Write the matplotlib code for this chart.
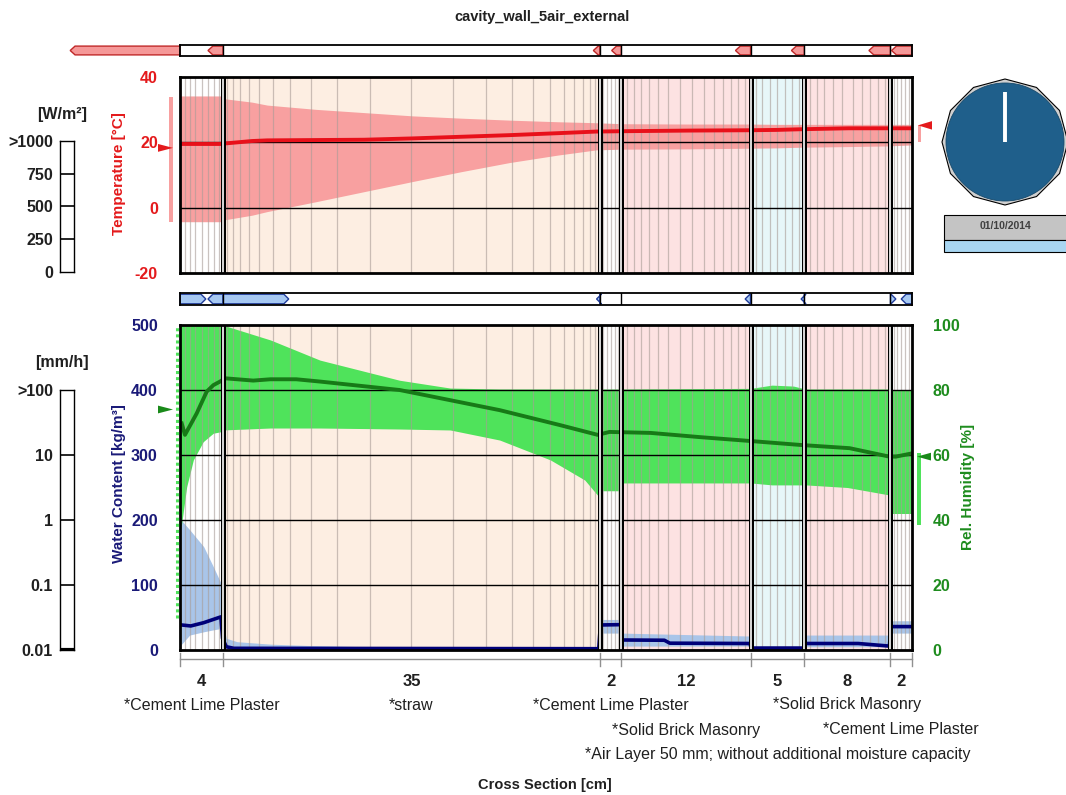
import numpy as np
import matplotlib
matplotlib.use("Agg")
import matplotlib.pyplot as plt
import matplotlib.transforms as mtrans
from matplotlib.patches import Polygon, Rectangle, Circle, RegularPolygon
from matplotlib.ticker import NullLocator, FixedLocator

plt.rcParams['font.family'] = ['Liberation Sans', 'DejaVu Sans']
plt.rcParams['axes.unicode_minus'] = False

# ---------------- data ----------------
title = "cavity_wall_5air_external"
layer_names = ["*Cement Lime Plaster", "*straw", "*Cement Lime Plaster",
               "*Solid Brick Masonry", "*Air Layer 50 mm; without additional moisture capacity",
               "*Solid Brick Masonry", "*Cement Lime Plaster"]
layer_thick = [4, 35, 2, 12, 5, 8, 2]
layer_row = [0, 0, 0, 1, 2, 0, 1]
layer_colors = ["#ffffff", "#fdeee2", "#ffffff", "#fde2e2", "#e7f7f9", "#fde2e2", "#ffffff"]
layer_mesh_n = [8, 22, 6, 15, 8, 11, 6]

# temperature [°C]
x_t = [0, 3.9, 4.0, 6.7, 8.1, 12.6, 17.1, 21.6, 26.1, 30.6, 35.1, 38.7, 41.0,
       47.3, 52.9, 55.4, 57.6, 62.1, 65.7, 68.0]
t_mean = [19.5, 19.5, 19.6, 20.4, 20.6, 20.7, 20.8, 21.2, 21.7, 22.2, 22.8, 23.3, 23.4,
          23.6, 23.7, 23.8, 24.0, 24.3, 24.3, 24.3]
t_max = [34.2, 34.2, 33.4, 32.3, 31.4, 30.1, 29.1, 28.1, 27.4, 26.8, 26.3, 26.0, 25.7,
         25.6, 25.6, 25.5, 25.5, 25.5, 25.5, 25.5]
t_min = [-4.3, -4.3, -3.8, -2.3, -1.2, 1.8, 4.9, 8.0, 11.0, 13.8, 16.1, 17.7, 17.9,
         18.0, 18.2, 18.3, 18.5, 18.7, 18.9, 19.2]
t_ext_range = [-4.3, 34.0]
t_ext_now = 18.3
t_int_range = [20.2, 25.4]
t_int_now = 25.2

# water content [kg/m3]
x_w = [0.15, 1.0, 2.2, 3.8, 3.95, 4.3, 5.0, 38.9, 39.05, 40.95, 41.05, 45.0, 45.5,
       52.95, 53.05, 57.95, 58.05, 63.0, 65.9, 66.05, 68.0]
wc_mean = [38.5, 37.0, 42.0, 51.0, 18.0, 5.0, 2.6, 2.0, 38.5, 39.0, 15.4, 15.0, 10.5,
           10.0, 3.0, 3.0, 10.0, 10.0, 6.0, 36.0, 36.0]
x_wb = [0.1, 0.9, 2.2, 3.1, 3.8, 3.95, 4.3, 5.3, 8.4, 11.8, 20.0, 38.9, 39.05, 40.95,
        41.05, 52.95, 53.05, 57.95, 58.05, 65.95, 66.05, 68.0]
wc_hi = [200, 185, 159, 128, 103, 46, 18, 12.8, 9, 7, 4, 3, 47, 47,
         26, 21.5, 3, 3, 23, 23, 45, 45]
wc_lo = [8, 23, 28, 31, 33, 5, 2, 1, 1, 1, 1, 1, 26, 26,
         6, 6, 1, 1, 5, 5, 26, 26]

# relative humidity [%]
x_rh = [0.16, 0.46, 1.55, 2.48, 3.1, 3.72, 4.2, 6.8, 8.4, 10.8, 13.0, 20.4, 29.7,
        35.3, 38.8, 39.9, 43.7, 48.3, 53.0, 57.6, 62.2, 65.9, 66.5, 68.0]
rh_mean = [69.7, 66.2, 72.8, 79.5, 81.5, 82.6, 83.6, 82.9, 83.3, 83.3, 82.6, 80.0, 73.8,
           69.2, 66.2, 67.1, 66.8, 65.5, 64.3, 63.1, 62.1, 59.5, 59.5, 60.5]
x_rb = [0.0, 0.16, 0.62, 1.24, 2.16, 3.09, 3.85, 3.95, 8.4, 13.0, 20.4, 25.1, 29.7,
        34.4, 37.6, 38.85, 39.0, 41.0, 41.1, 53.0, 55.0, 57.0, 58.1, 62.0, 65.9, 66.1, 68.0]
rh_hi = [100, 100, 100, 100, 100, 100, 100, 100, 95.4, 89.2, 83.0, 80.6, 80.3,
         80.3, 80.3, 80.3, 80.3, 80.3, 80.3, 80.5, 81.5, 81.2, 80.3, 80.3, 80.3, 80.0, 80.0]
rh_lo = [36, 39, 50.2, 58.5, 64.1, 66.7, 67.2, 67.7, 68.3, 68.3, 68.0, 67.7, 64.6,
         58.5, 52.3, 47.4, 49, 49, 51.4, 51.4, 50.8, 50.8, 50.8, 50.0, 47.7, 42, 42]
rh_ext_range = [10, 100]
rh_ext_now = 74.0
rh_int_range = [38.5, 60.5]
rh_int_now = 59.5

# flux indicators (length in cm along strip at each layer boundary, sign = direction)
heat_flux_bound = [0, 4, 39, 41, 53, 58, 66, 68]
heat_flux_len = [-10.2, -1.4, -0.6, -0.9, -1.4, -1.2, -2.0, -1.9]
moist_flux_bound = [0, 4, 4, 39, 53, 58, 66, 68]
moist_flux_len = [2.4, -1.4, 6.1, -0.3, -0.5, -0.3, 0.5, -1.0]

temp_ticks = [-20, 0, 20, 40]
wc_ticks = [0, 100, 200, 300, 400, 500]
rh_ticks = [0, 20, 40, 60, 80, 100]
rad_ticks = [0, 250, 500, 750, 1000]
rad_labels = ["0", "250", "500", "750", ">1000"]
rain_ticks = [0.01, 0.1, 1, 10, 100]
rain_labels = ["0.01", "0.1", "1", "10", ">100"]
date_text = "01/10/2014"

# ---------------- layout ----------------
W, H = 1066, 795
fig = plt.figure(figsize=(W / 100, H / 100), dpi=100)


def rect(x0, y0, x1, y1):
    return [x0 / W, 1 - y1 / H, (x1 - x0) / W, (y1 - y0) / H]


bounds = np.concatenate([[0], np.cumsum(layer_thick)])
total = bounds[-1]
centers = (bounds[:-1] + bounds[1:]) / 2


def mesh(a, b, n, r=1.18):
    half = n // 2
    w = r ** np.arange(half)
    if n % 2:
        widths = np.concatenate([w, [w[-1] * r], w[::-1]])
    else:
        widths = np.concatenate([w, w[::-1]])
    widths = widths / widths.sum() * (b - a)
    return a + np.cumsum(widths)[:-1]


mesh_x = np.concatenate([mesh(bounds[i], bounds[i + 1], layer_mesh_n[i],
                              1.25 if layer_thick[i] > 20 else 1.12)
                         for i in range(len(layer_thick))])

RED = "#e41a1c"
NAVY = "#1a1a78"
GREEN_T = "#1e8c1e"
TBAND = "#f8a0a0"
GBAND = "#4fe35b"
BBAND = "#a9c5e9"
MESHC = "#a89c96"

px = 1.0 / 732.0  # axes fraction of one pixel horizontally


def decorate_main(ax, ylo, yhi):
    for i in range(len(layer_thick)):
        ax.axvspan(bounds[i], bounds[i + 1], color=layer_colors[i], lw=0, zorder=0)
    ax.vlines(mesh_x, ylo, yhi, color=MESHC, lw=0.9, alpha=0.6, zorder=2)
    for b in bounds[1:-1]:
        ax.axvline(b, color="black", lw=3.6, zorder=6)
        ax.axvline(b, color="white", lw=1.2, zorder=7)
    for s in ax.spines.values():
        s.set_linewidth(2.0)
        s.set_zorder(8)
    ax.set_xlim(0, total)
    ax.set_ylim(ylo, yhi)
    ax.set_xticks([])


# ---- upper: temperature ----
ax_t = fig.add_axes(rect(180, 77, 912, 273))
decorate_main(ax_t, -20, 40)
ax_t.fill_between(x_t, t_min, t_max, color=TBAND, lw=0, zorder=1)
for v in (0, 20):
    ax_t.axhline(v, color="black", lw=1.0, zorder=3)
ax_t.plot(x_t, t_mean, color="#e8101a", lw=2.8, zorder=4)
ax_t.set_yticks(temp_ticks)
ax_t.tick_params(axis="y", length=0, pad=16, labelcolor=RED, labelsize=11.5)
for l in ax_t.get_yticklabels():
    l.set_fontweight("bold")

tr_t = mtrans.blended_transform_factory(ax_t.transAxes, ax_t.transData)
ax_t.add_patch(Rectangle((-11 * px, t_ext_range[0]), 4 * px, t_ext_range[1] - t_ext_range[0],
                         transform=tr_t, color=TBAND, clip_on=False, lw=0))
ax_t.add_patch(Polygon([(-22 * px, t_ext_now + 1.2), (-7 * px, t_ext_now), (-22 * px, t_ext_now - 1.2)],
                       closed=True, transform=tr_t, color=RED, clip_on=False, lw=0))
ax_t.add_patch(Rectangle((1 + 6 * px, t_int_range[0]), 3 * px, t_int_range[1] - t_int_range[0],
                         transform=tr_t, color=TBAND, clip_on=False, lw=0))
ax_t.add_patch(Polygon([(1 + 20 * px, t_int_now + 1.3), (1 + 6 * px, t_int_now), (1 + 20 * px, t_int_now - 1.3)],
                       closed=True, transform=tr_t, color=RED, clip_on=False, lw=0))

# ---- lower: water content + RH ----
ax_w = fig.add_axes(rect(180, 325, 912, 650))
ax_rh = ax_w.twinx()
ax_rh.set_ylim(0, 100)
decorate_main(ax_w, 0, 500)
ax_w.fill_between(x_wb, wc_lo, wc_hi, color=BBAND, lw=0, zorder=1)
ax_w.fill_between(x_rb, rh_lo, rh_hi, color=GBAND, lw=0, zorder=1.5, transform=ax_rh.transData)
for v in (100, 200, 300, 400):
    ax_w.axhline(v, color="black", lw=1.0, zorder=3)
ax_w.plot(x_w, wc_mean, color="#000078", lw=2.6, zorder=4)
ax_w.plot(x_rh, rh_mean, color="#177a17", lw=2.8, zorder=4, transform=ax_rh.transData)
ax_w.set_xlim(0, total)
ax_w.set_ylim(0, 500)
ax_rh.set_ylim(0, 100)
ax_w.set_yticks(wc_ticks)
ax_w.tick_params(axis="y", length=0, pad=16, labelcolor=NAVY, labelsize=11.5)
for l in ax_w.get_yticklabels():
    l.set_fontweight("bold")
ax_rh.set_yticks(rh_ticks)
ax_rh.tick_params(axis="y", length=0, pad=15, labelcolor=GREEN_T, labelsize=11.5)
for l in ax_rh.get_yticklabels():
    l.set_fontweight("bold")
for s in ax_rh.spines.values():
    s.set_visible(False)

tr_rh = mtrans.blended_transform_factory(ax_w.transAxes, ax_rh.transData)
ax_w.plot([-3 * px, -3 * px], rh_ext_range, transform=tr_rh, color=GBAND, lw=2.2,
          ls=(0, (1, 1)), clip_on=False, zorder=9)
ax_w.add_patch(Polygon([(-22 * px, rh_ext_now + 1.2), (-7 * px, rh_ext_now), (-22 * px, rh_ext_now - 1.2)],
                       closed=True, transform=tr_rh, color="#1a8a1a", clip_on=False, lw=0))
ax_w.add_patch(Rectangle((1 + 5 * px, rh_int_range[0]), 4 * px, rh_int_range[1] - rh_int_range[0],
                         transform=tr_rh, color=GBAND, clip_on=False, lw=0))
ax_w.add_patch(Polygon([(1 + 19 * px, rh_int_now + 1.2), (1 + 5 * px, rh_int_now), (1 + 19 * px, rh_int_now - 1.2)],
                       closed=True, transform=tr_rh, color="#1a8a1a", clip_on=False, lw=0))

# dimension line and labels
tr_x = mtrans.blended_transform_factory(ax_w.transData, ax_w.transAxes)
ypx = lambda p: (650 - p) / 325.0
ax_w.plot([0, total], [ypx(659), ypx(659)], transform=tr_x, color="#909090", lw=1.0, clip_on=False)
for b in bounds:
    ax_w.plot([b, b], [ypx(653), ypx(666)], transform=tr_x, color="#909090", lw=1.0, clip_on=False)
for i, c in enumerate(centers):
    ax_w.text(c, ypx(681), str(layer_thick[i]), transform=tr_x, ha="center", va="center",
              fontsize=12, fontweight="bold", color="#202020")
    ax_w.text(c, ypx(705 + 25 * layer_row[i]), layer_names[i], transform=tr_x, ha="center",
              va="center", fontsize=11.5, color="#202020")

# ---- flux strips ----
def strip(r, bnds, lens, fc, ec):
    ax = fig.add_axes(r)
    ax.set_xlim(0, total)
    ax.set_ylim(0, 1)
    ax.set_xticks([])
    ax.set_yticks([])
    for s in ax.spines.values():
        s.set_linewidth(1.3)
    for b in bounds[1:-1]:
        ax.axvline(b, color="black", lw=1.0, zorder=3)
    tip = 0.45
    for b, L in zip(bnds, lens):
        end = b + L
        sgn = np.sign(L)
        pts = [(b, 0.1), (b, 0.9), (end - sgn * tip, 0.9), (end, 0.5), (end - sgn * tip, 0.1)]
        ax.add_patch(Polygon(pts, closed=True, fc=fc, ec=ec, lw=1.0, clip_on=False, zorder=2))
    return ax


strip(rect(180, 45, 912, 56), heat_flux_bound, heat_flux_len, "#f59898", "#c02828")
strip(rect(180, 293, 912, 305), moist_flux_bound, moist_flux_len, "#a6c8f2", "#203c9a")

# ---- left scales ----
ax_rad = fig.add_axes(rect(60, 141, 74, 272))
ax_rad.set_ylim(0, 1000)
ax_rad.set_xticks([])
ax_rad.set_yticks(rad_ticks)
ax_rad.set_yticklabels(rad_labels)
for v in rad_ticks[1:-1]:
    ax_rad.axhline(v, color="black", lw=1.2)
ax_rad.tick_params(axis="y", length=0, pad=5, labelsize=11.5, labelcolor="#202020")
for l in ax_rad.get_yticklabels():
    l.set_fontweight("bold")
for s in ax_rad.spines.values():
    s.set_linewidth(1.0)
fig.text(62 / W, 1 - 115 / H, "[W/m²]", ha="center", va="center", fontsize=11.5,
         fontweight="bold", color="#202020")

ax_rain = fig.add_axes(rect(60, 390, 74, 650))
ax_rain.set_yscale("log")
ax_rain.set_ylim(0.01, 100)
ax_rain.set_xticks([])
ax_rain.yaxis.set_major_locator(FixedLocator(rain_ticks))
ax_rain.yaxis.set_minor_locator(NullLocator())
ax_rain.set_yticklabels(rain_labels)
for v in rain_ticks[1:-1]:
    ax_rain.axhline(v, color="black", lw=1.2)
ax_rain.axhline(0.01, color="black", lw=3.0)
ax_rain.tick_params(axis="y", length=0, pad=5, labelsize=11.5, labelcolor="#202020")
for l in ax_rain.get_yticklabels():
    l.set_fontweight("bold")
for s in ax_rain.spines.values():
    s.set_linewidth(1.0)
fig.text(62 / W, 1 - 363 / H, "[mm/h]", ha="center", va="center", fontsize=11.5,
         fontweight="bold", color="#202020")

# ---- axis titles ----
fig.text(119 / W, 1 - 174 / H, "Temperature [°C]", rotation=90, ha="center", va="center",
         fontsize=11, fontweight="bold", color=RED)
fig.text(119 / W, 1 - 484 / H, "Water Content [kg/m³]", rotation=90, ha="center", va="center",
         fontsize=11, fontweight="bold", color=NAVY)
fig.text(968 / W, 1 - 487 / H, "Rel. Humidity [%]", rotation=90, ha="center", va="center",
         fontsize=11, fontweight="bold", color=GREEN_T)
fig.text(542 / W, 1 - 17 / H, title, ha="center", va="center", fontsize=10.5,
         fontweight="bold", color="#202020")
fig.text(545 / W, 1 - 785 / H, "Cross Section [cm]", ha="center", va="center", fontsize=10.5,
         fontweight="bold", color="#202020")

# ---- clock ----
ax_c = fig.add_axes(rect(940, 77, 1070, 207))
ax_c.set_xlim(-65, 65)
ax_c.set_ylim(-65, 65)
ax_c.axis("off")
ax_c.add_patch(RegularPolygon((0, 0), numVertices=12, radius=63, fc="#d0d0d0", ec="black", lw=0.8))
ax_c.add_patch(Circle((0, 0), 59, fc="#1f5f8b", ec="#174a6c", lw=0.6))
ax_c.plot([0, 0], [0, 50], color="white", lw=2.8, solid_capstyle="butt")

fig.add_artist(Rectangle((944 / W, 1 - 240 / H), (1070 - 944) / W, 25 / H, transform=fig.transFigure,
                         fc="#c4c4c4", ec="black", lw=0.8))
fig.add_artist(Rectangle((944 / W, 1 - 252 / H), (1070 - 944) / W, 12 / H, transform=fig.transFigure,
                         fc="#a8d6f2", ec="black", lw=0.8))
fig.text(1006 / W, 1 - 226 / H, date_text, ha="center", va="center", fontsize=7.5,
         fontweight="bold", color="#404040")

fig.savefig("out.png", dpi=100)
